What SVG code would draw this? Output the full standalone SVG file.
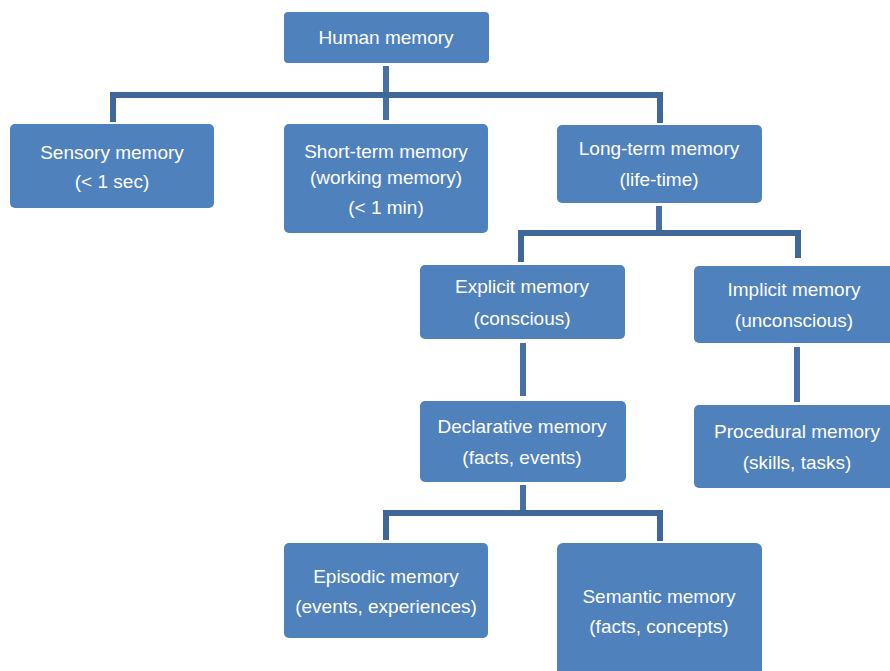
<svg xmlns="http://www.w3.org/2000/svg" width="890" height="671" viewBox="0 0 890 671">
  <style>
    .box { fill: #4f81bd; }
    .lbl { font-family: "Liberation Sans", Arial, sans-serif; font-size: 19px; fill: #ffffff; text-anchor: middle; }
    .wire { fill: none; stroke: #4670a6; stroke-width: 6; stroke-linejoin: miter; stroke-linecap: butt; }
    .bus { fill: none; stroke: #3f6798; stroke-width: 6; }
  </style>
  <rect width="890" height="671" fill="#ffffff"/>

  <g id="connectors">
    <!-- Human memory to its three children -->
    <line class="wire" x1="386" y1="66" x2="386" y2="120"/>
    <path class="bus" d="M113,122 V95 H660 V123"/>
    <!-- Long-term memory to explicit / implicit -->
    <line class="wire" x1="659" y1="206" x2="659" y2="233"/>
    <path class="bus" d="M521,262 V233 H798 V258"/>
    <!-- Explicit to declarative -->
    <line class="wire" x1="523" y1="343" x2="523" y2="396"/>
    <!-- Implicit to procedural -->
    <line class="wire" x1="797" y1="347" x2="797" y2="402"/>
    <!-- Declarative to episodic / semantic -->
    <line class="wire" x1="523" y1="485" x2="523" y2="513"/>
    <path class="bus" d="M386,540 V513 H660 V541"/>
  </g>

  <g id="human">
    <rect class="box" x="284" y="12" width="205" height="51" rx="4"/>
    <text class="lbl" x="386" y="44">Human memory</text>
  </g>

  <g id="sensory">
    <rect class="box" x="10" y="124" width="204" height="84" rx="5"/>
    <text class="lbl" x="112" y="159">Sensory memory</text>
    <text class="lbl" x="112" y="188">(&lt; 1 sec)</text>
  </g>

  <g id="short-term">
    <rect class="box" x="284" y="124" width="204" height="109" rx="5"/>
    <text class="lbl" x="386" y="158">Short-term memory</text>
    <text class="lbl" x="386" y="184">(working memory)</text>
    <text class="lbl" x="386" y="214">(&lt; 1 min)</text>
  </g>

  <g id="long-term">
    <rect class="box" x="557" y="125" width="205" height="78" rx="5"/>
    <text class="lbl" x="659" y="155">Long-term memory</text>
    <text class="lbl" x="659" y="186">(life-time)</text>
  </g>

  <g id="explicit">
    <rect class="box" x="420" y="265" width="205" height="74" rx="5"/>
    <text class="lbl" x="522" y="293">Explicit memory</text>
    <text class="lbl" x="522" y="325">(conscious)</text>
  </g>

  <g id="implicit">
    <rect class="box" x="694" y="266" width="206" height="77" rx="5"/>
    <text class="lbl" x="794" y="296">Implicit memory</text>
    <text class="lbl" x="794" y="327">(unconscious)</text>
  </g>

  <g id="declarative">
    <rect class="box" x="420" y="401" width="206" height="81" rx="5"/>
    <text class="lbl" x="522" y="433">Declarative memory</text>
    <text class="lbl" x="522" y="464">(facts, events)</text>
  </g>

  <g id="procedural">
    <rect class="box" x="694" y="405" width="206" height="83" rx="5"/>
    <text class="lbl" x="797" y="438">Procedural memory</text>
    <text class="lbl" x="797" y="469">(skills, tasks)</text>
  </g>

  <g id="episodic">
    <rect class="box" x="284" y="543" width="204" height="95" rx="5"/>
    <text class="lbl" x="386" y="583">Episodic memory</text>
    <text class="lbl" x="386" y="613">(events, experiences)</text>
  </g>

  <g id="semantic">
    <rect class="box" x="557" y="543" width="205" height="140" rx="6"/>
    <text class="lbl" x="659" y="603">Semantic memory</text>
    <text class="lbl" x="659" y="633">(facts, concepts)</text>
  </g>
</svg>
